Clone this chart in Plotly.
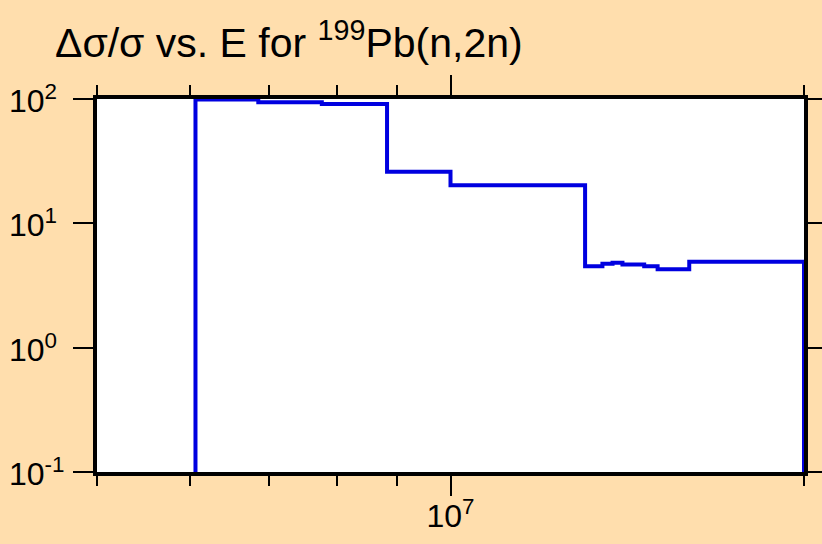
import math
import plotly.graph_objects as go

# Group boundaries (eV) and relative uncertainty (%) per group
edges = [6.065e6, 6.86e6, 7.77e6, 8.83e6, 1.0e7, 1.302e7, 1.347e7, 1.374e7,
         1.401e7, 1.462e7, 1.501e7, 1.597e7, 2.0e7]
values = [99, 94, 91, 26, 20.2, 4.52, 4.73, 4.81, 4.67, 4.51, 4.28, 4.91]
y_floor = 0.1

x_major = [1e7]
x_major_text = ["10<sup>7</sup>"]
x_minor = [5e6, 6e6, 7e6, 8e6, 9e6, 2e7]
y_ticks = [0.1, 1, 10, 100]
y_tick_text = ["10<sup>-1</sup>", "10<sup>0</sup>", "10<sup>1</sup>", "10<sup>2</sup>"]

xs = [edges[0]] + edges[:-1] + [edges[-1], edges[-1]]
ys = [y_floor] + values + [values[-1], y_floor]

W, H = 822, 544
L, R, T, B = 97, 18, 99, 72
pw = W - L - R

fig = go.Figure()
fig.add_trace(go.Scatter(x=xs, y=ys, mode="lines", line_shape="hv",
                         line=dict(color="#0000e0", width=4), showlegend=False,
                         hoverinfo="skip"))

# y tick labels, left aligned as in the reference
for v, t in zip(y_ticks, y_tick_text):
    fig.add_annotation(text=t, xref="paper", x=(7 - L) / pw, xanchor="left",
                       yref="y", y=math.log10(v), yanchor="middle",
                       showarrow=False, font=dict(size=32, color="black"))

bg = "#ffdead"
fig.update_layout(
    width=W, height=H, autosize=False,
    paper_bgcolor=bg, plot_bgcolor="white",
    margin=dict(l=L, r=R, t=T, b=B, autoexpand=False),
    font=dict(family="Liberation Sans, Arial, sans-serif", color="black"),
    title=dict(text="\u0394\u03c3/\u03c3 vs. E for <sup>199</sup>Pb(n,2n)",
               x=55 / W, xanchor="left", y=1 - 57 / H, yanchor="bottom",
               font=dict(size=41, color="black"), automargin=False),
    showlegend=False,
)
fig.update_xaxes(type="log", range=[6.69897, 7.30103], tickmode="array",
                 tickvals=x_major, ticktext=x_major_text, automargin=False,
                 ticks="outside", ticklen=20, tickwidth=2, tickcolor="black",
                 showline=True, linewidth=4, linecolor="black", mirror="ticks",
                 showgrid=False, zeroline=False, tickfont=dict(size=32),
                 ticklabelstandoff=-7,
                 minor=dict(tickvals=x_minor, ticks="outside", ticklen=10,
                            tickwidth=2, tickcolor="black", showgrid=False))
fig.update_yaxes(type="log", range=[-1, 2], tickmode="array",
                 tickvals=y_ticks, showticklabels=False, automargin=False,
                 ticks="outside", ticklen=20, tickwidth=2, tickcolor="black",
                 showline=True, linewidth=4, linecolor="black", mirror="ticks",
                 showgrid=False, zeroline=False)

fig.write_html("out.html", config={"displayModeBar": False},
               post_script="document.body.style.margin='0';"
                           "document.body.style.overflow='hidden';")
